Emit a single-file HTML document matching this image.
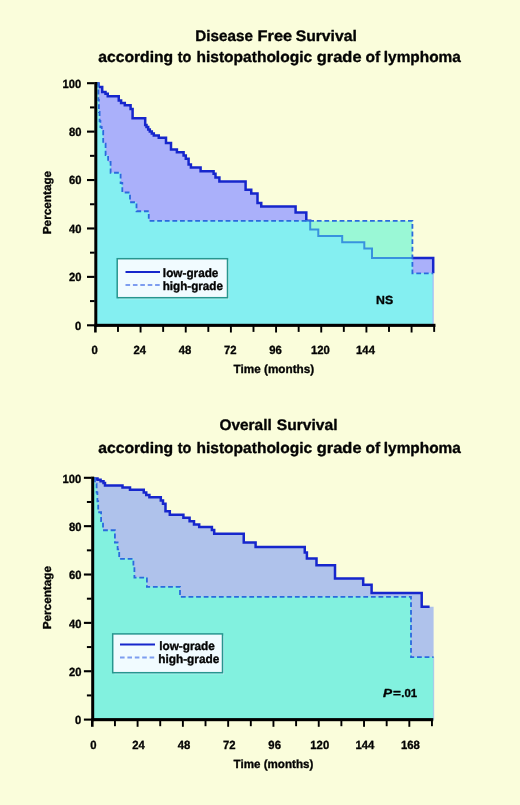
<!DOCTYPE html>
<html><head><meta charset="utf-8"><title>Survival according to histopathologic grade of lymphoma</title>
<style>
html,body{margin:0;padding:0;background:#fafddb;}
body{width:520px;height:805px;overflow:hidden;font-family:"Liberation Sans",sans-serif;}
svg{display:block}
text{font-family:"Liberation Sans",sans-serif;font-weight:bold;fill:#000;stroke:#000;stroke-width:0.35px;stroke-linejoin:round;text-rendering:geometricPrecision}
</style></head><body>
<svg width="520" height="805" viewBox="0 0 520 805">
<rect width="520" height="805" fill="#fafddb"/>
<defs><clipPath id="clt"><path d="M96.90,83.50 L98.50,83.50 L98.50,86.90 L102.20,86.90 L102.20,91.90 L105.50,91.90 L105.50,93.75 L107.75,93.75 L107.75,96.25 L118.75,96.25 L118.75,100.60 L121.10,100.60 L121.10,103.10 L124.80,103.10 L124.80,105.30 L130.60,105.30 L130.60,108.90 L132.60,108.90 L132.60,118.20 L145.20,118.20 L145.20,125 L146.50,125 L146.50,127 L148.20,127 L148.20,129.50 L149.80,129.50 L149.80,131.50 L151.80,131.50 L151.80,133.50 L153.80,133.50 L153.80,135.60 L158.75,135.60 L158.75,137.75 L166,137.75 L166,143.10 L171,143.10 L171,149.50 L176.90,149.50 L176.90,152.20 L183.60,152.20 L183.60,155.60 L185.80,155.60 L185.80,158.75 L188.60,158.75 L188.60,164.40 L190.90,164.40 L190.90,167.50 L200.60,167.50 L200.60,171.25 L213.60,171.25 L213.60,173.75 L215.50,173.75 L215.50,177.50 L219.40,177.50 L219.40,181.40 L245.60,181.40 L245.60,189.75 L251.25,189.75 L251.25,193.60 L257.50,193.60 L257.50,203.10 L261.25,203.10 L261.25,206.50 L295.60,206.50 L295.60,212.50 L306.30,212.50 L306.30,220.80 L310.20,220.80 L310.20,229.50 L318.30,229.50 L318.30,236 L342.20,236 L342.20,242.30 L364.30,242.30 L364.30,248.50 L372,248.50 L372,258 L433.20,258 L433.20,273.30 L433.20,325.30 L97,325.30Z"/></clipPath><clipPath id="cht"><path d="M96.90,83.50 L98.40,83.50 L98.40,100 L98.90,100 L98.90,112 L99.60,112 L99.60,121 L100.40,121 L100.40,127 L101.70,127 L101.70,131 L103.20,131 L103.20,143.75 L105.60,143.75 L105.60,155 L108.10,155 L108.10,162 L110.60,162 L110.60,172.75 L120.60,172.75 L120.60,183 L122.30,183 L122.30,192.50 L130,192.50 L130,202.25 L136.50,202.25 L136.50,211.25 L148.75,211.25 L148.75,220.80 L412.40,220.80 L412.40,273.30 L433.20,273.30 L433.20,325.30 L97,325.30Z"/></clipPath></defs>
<path d="M96.90,83.50 L98.50,83.50 L98.50,86.90 L102.20,86.90 L102.20,91.90 L105.50,91.90 L105.50,93.75 L107.75,93.75 L107.75,96.25 L118.75,96.25 L118.75,100.60 L121.10,100.60 L121.10,103.10 L124.80,103.10 L124.80,105.30 L130.60,105.30 L130.60,108.90 L132.60,108.90 L132.60,118.20 L145.20,118.20 L145.20,125 L146.50,125 L146.50,127 L148.20,127 L148.20,129.50 L149.80,129.50 L149.80,131.50 L151.80,131.50 L151.80,133.50 L153.80,133.50 L153.80,135.60 L158.75,135.60 L158.75,137.75 L166,137.75 L166,143.10 L171,143.10 L171,149.50 L176.90,149.50 L176.90,152.20 L183.60,152.20 L183.60,155.60 L185.80,155.60 L185.80,158.75 L188.60,158.75 L188.60,164.40 L190.90,164.40 L190.90,167.50 L200.60,167.50 L200.60,171.25 L213.60,171.25 L213.60,173.75 L215.50,173.75 L215.50,177.50 L219.40,177.50 L219.40,181.40 L245.60,181.40 L245.60,189.75 L251.25,189.75 L251.25,193.60 L257.50,193.60 L257.50,203.10 L261.25,203.10 L261.25,206.50 L295.60,206.50 L295.60,212.50 L306.30,212.50 L306.30,220.80 L310.20,220.80 L310.20,229.50 L318.30,229.50 L318.30,236 L342.20,236 L342.20,242.30 L364.30,242.30 L364.30,248.50 L372,248.50 L372,258 L433.20,258 L433.20,273.30 L433.20,325.30 L97,325.30Z" fill="#aab0fa"/>
<path d="M96.90,83.50 L98.50,83.50 L98.50,86.90 L102.20,86.90 L102.20,91.90 L105.50,91.90 L105.50,93.75 L107.75,93.75 L107.75,96.25 L118.75,96.25 L118.75,100.60 L121.10,100.60 L121.10,103.10 L124.80,103.10 L124.80,105.30 L130.60,105.30 L130.60,108.90 L132.60,108.90 L132.60,118.20 L145.20,118.20 L145.20,125 L146.50,125 L146.50,127 L148.20,127 L148.20,129.50 L149.80,129.50 L149.80,131.50 L151.80,131.50 L151.80,133.50 L153.80,133.50 L153.80,135.60 L158.75,135.60 L158.75,137.75 L166,137.75 L166,143.10 L171,143.10 L171,149.50 L176.90,149.50 L176.90,152.20 L183.60,152.20 L183.60,155.60 L185.80,155.60 L185.80,158.75 L188.60,158.75 L188.60,164.40 L190.90,164.40 L190.90,167.50 L200.60,167.50 L200.60,171.25 L213.60,171.25 L213.60,173.75 L215.50,173.75 L215.50,177.50 L219.40,177.50 L219.40,181.40 L245.60,181.40 L245.60,189.75 L251.25,189.75 L251.25,193.60 L257.50,193.60 L257.50,203.10 L261.25,203.10 L261.25,206.50 L295.60,206.50 L295.60,212.50 L306.30,212.50 L306.30,220.80 L310.20,220.80 L310.20,229.50 L318.30,229.50 L318.30,236 L342.20,236 L342.20,242.30 L364.30,242.30 L364.30,248.50 L372,248.50 L372,258 L433.20,258 L433.20,273.30" fill="none" stroke="#1626cc" stroke-width="2.5" stroke-linejoin="miter"/>
<path d="M96.90,83.50 L98.40,83.50 L98.40,100 L98.90,100 L98.90,112 L99.60,112 L99.60,121 L100.40,121 L100.40,127 L101.70,127 L101.70,131 L103.20,131 L103.20,143.75 L105.60,143.75 L105.60,155 L108.10,155 L108.10,162 L110.60,162 L110.60,172.75 L120.60,172.75 L120.60,183 L122.30,183 L122.30,192.50 L130,192.50 L130,202.25 L136.50,202.25 L136.50,211.25 L148.75,211.25 L148.75,220.80 L412.40,220.80 L412.40,273.30 L433.20,273.30 L433.20,325.30 L97,325.30Z" fill="#9af8d6"/>
<path d="M96.90,83.50 L98.40,83.50 L98.40,100 L98.90,100 L98.90,112 L99.60,112 L99.60,121 L100.40,121 L100.40,127 L101.70,127 L101.70,131 L103.20,131 L103.20,143.75 L105.60,143.75 L105.60,155 L108.10,155 L108.10,162 L110.60,162 L110.60,172.75 L120.60,172.75 L120.60,183 L122.30,183 L122.30,192.50 L130,192.50 L130,202.25 L136.50,202.25 L136.50,211.25 L148.75,211.25 L148.75,220.80 L412.40,220.80 L412.40,273.30 L433.20,273.30 L433.20,325.30 L97,325.30Z" fill="#84eff1" clip-path="url(#clt)"/>
<path d="M96.90,83.50 L98.50,83.50 L98.50,86.90 L102.20,86.90 L102.20,91.90 L105.50,91.90 L105.50,93.75 L107.75,93.75 L107.75,96.25 L118.75,96.25 L118.75,100.60 L121.10,100.60 L121.10,103.10 L124.80,103.10 L124.80,105.30 L130.60,105.30 L130.60,108.90 L132.60,108.90 L132.60,118.20 L145.20,118.20 L145.20,125 L146.50,125 L146.50,127 L148.20,127 L148.20,129.50 L149.80,129.50 L149.80,131.50 L151.80,131.50 L151.80,133.50 L153.80,133.50 L153.80,135.60 L158.75,135.60 L158.75,137.75 L166,137.75 L166,143.10 L171,143.10 L171,149.50 L176.90,149.50 L176.90,152.20 L183.60,152.20 L183.60,155.60 L185.80,155.60 L185.80,158.75 L188.60,158.75 L188.60,164.40 L190.90,164.40 L190.90,167.50 L200.60,167.50 L200.60,171.25 L213.60,171.25 L213.60,173.75 L215.50,173.75 L215.50,177.50 L219.40,177.50 L219.40,181.40 L245.60,181.40 L245.60,189.75 L251.25,189.75 L251.25,193.60 L257.50,193.60 L257.50,203.10 L261.25,203.10 L261.25,206.50 L295.60,206.50 L295.60,212.50 L306.30,212.50 L306.30,220.80 L310.20,220.80 L310.20,229.50 L318.30,229.50 L318.30,236 L342.20,236 L342.20,242.30 L364.30,242.30 L364.30,248.50 L372,248.50 L372,258 L433.20,258 L433.20,273.30" fill="none" stroke="#3892de" stroke-width="2" clip-path="url(#cht)"/>
<rect x="432.5" y="273.3" width="1.3" height="52" fill="#aab0fa" opacity="0.75"/>
<path d="M96.90,83.50 L98.40,83.50 L98.40,100 L98.90,100 L98.90,112 L99.60,112 L99.60,121 L100.40,121 L100.40,127 L101.70,127 L101.70,131 L103.20,131 L103.20,143.75 L105.60,143.75 L105.60,155 L108.10,155 L108.10,162 L110.60,162 L110.60,172.75 L120.60,172.75 L120.60,183 L122.30,183 L122.30,192.50 L130,192.50 L130,202.25 L136.50,202.25 L136.50,211.25 L148.75,211.25 L148.75,220.80 L412.40,220.80 L412.40,273.30 L433.20,273.30" fill="none" stroke="#2a6ade" stroke-width="1.8" stroke-dasharray="4.8 2.8"/>
<rect x="94.3" y="82" width="3" height="244.9" fill="#000"/>
<rect x="94.3" y="323.8" width="341.16" height="3.1" fill="#000"/>
<rect x="87" y="82.15" width="7.6" height="2.1" fill="#000"/>
<rect x="90" y="106.41" width="4.6" height="2" fill="#000"/>
<rect x="87" y="130.57" width="7.6" height="2.1" fill="#000"/>
<rect x="90" y="154.83" width="4.6" height="2" fill="#000"/>
<rect x="87" y="178.99" width="7.6" height="2.1" fill="#000"/>
<rect x="90" y="203.25" width="4.6" height="2" fill="#000"/>
<rect x="87" y="227.41" width="7.6" height="2.1" fill="#000"/>
<rect x="90" y="251.67" width="4.6" height="2" fill="#000"/>
<rect x="87" y="275.83" width="7.6" height="2.1" fill="#000"/>
<rect x="90" y="300.09" width="4.6" height="2" fill="#000"/>
<rect x="87" y="324.25" width="7.6" height="2.1" fill="#000"/>
<rect x="94.10" y="325.3" width="2.6" height="7.2" fill="#000"/>
<rect x="117.03" y="325.3" width="1.9" height="6.6" fill="#000"/>
<rect x="139.62" y="325.3" width="1.9" height="7.2" fill="#000"/>
<rect x="162.20" y="325.3" width="1.9" height="6.6" fill="#000"/>
<rect x="184.79" y="325.3" width="1.9" height="7.2" fill="#000"/>
<rect x="207.37" y="325.3" width="1.9" height="6.6" fill="#000"/>
<rect x="229.95" y="325.3" width="1.9" height="7.2" fill="#000"/>
<rect x="252.54" y="325.3" width="1.9" height="6.6" fill="#000"/>
<rect x="275.12" y="325.3" width="1.9" height="7.2" fill="#000"/>
<rect x="297.71" y="325.3" width="1.9" height="6.6" fill="#000"/>
<rect x="320.29" y="325.3" width="1.9" height="7.2" fill="#000"/>
<rect x="342.87" y="325.3" width="1.9" height="6.6" fill="#000"/>
<rect x="365.46" y="325.3" width="1.9" height="7.2" fill="#000"/>
<rect x="388.04" y="325.3" width="1.9" height="6.6" fill="#000"/>
<rect x="410.63" y="325.3" width="1.9" height="7.2" fill="#000"/>
<rect x="433.21" y="325.3" width="1.9" height="6.6" fill="#000"/>
<rect x="118.8" y="260.3" width="110.3" height="39" fill="#b4f3f2"/>
<rect x="117.2" y="258.7" width="110.3" height="39" fill="#f1fbff" stroke="#27968f" stroke-width="1.5"/>
<line x1="125.5" y1="272" x2="160" y2="272" stroke="#1626cc" stroke-width="2.1"/>
<line x1="125.5" y1="285" x2="160" y2="285" stroke="#7d9df0" stroke-width="2" stroke-dasharray="4.6 2.8"/>
<defs><clipPath id="clb"><path d="M94,478.50 L97.50,478.50 L97.50,479.75 L100.60,479.75 L100.60,481.25 L103.50,481.25 L103.50,483.10 L105,483.10 L105,485.60 L122.50,485.60 L122.50,487.50 L130,487.50 L130,489.75 L143.75,489.75 L143.75,492.50 L146.25,492.50 L146.25,495 L149.40,495 L149.40,497.25 L160.80,497.25 L160.80,500.60 L163,500.60 L163,503.75 L165.50,503.75 L165.50,511.25 L169.80,511.25 L169.80,514.75 L183.40,514.75 L183.40,517.75 L189.60,517.75 L189.60,521.25 L194,521.25 L194,524.40 L199.20,524.40 L199.20,526.90 L211.90,526.90 L211.90,530 L214.20,530 L214.20,533.75 L243.75,533.75 L243.75,542.50 L255.60,542.50 L255.60,546.90 L304.75,546.90 L304.75,552.50 L306.90,552.50 L306.90,558.50 L316.50,558.50 L316.50,565.25 L335,565.25 L335,578.50 L363.20,578.50 L363.20,584.80 L371.60,584.80 L371.60,592.90 L421.70,592.90 L421.70,606.80 L429.60,606.80 L433.60,606.80 L433.60,719.60 L94,719.60Z"/></clipPath><clipPath id="chb"><path d="M94,478.50 L95,478.50 L95,483.75 L96.60,483.75 L96.60,492.50 L97.40,492.50 L97.40,501.25 L98.20,501.25 L98.20,512.25 L101.10,512.25 L101.10,521 L103,521 L103,530.25 L114.90,530.25 L114.90,542.50 L117.60,542.50 L117.60,549.40 L119.20,549.40 L119.20,558.80 L133.40,558.80 L133.40,567 L134.40,567 L134.40,577.60 L146.90,577.60 L146.90,586.80 L180,586.80 L180,596.80 L411,596.80 L411,657.10 L433.60,657.10 L433.60,719.60 L94,719.60Z"/></clipPath></defs>
<path d="M94,478.50 L97.50,478.50 L97.50,479.75 L100.60,479.75 L100.60,481.25 L103.50,481.25 L103.50,483.10 L105,483.10 L105,485.60 L122.50,485.60 L122.50,487.50 L130,487.50 L130,489.75 L143.75,489.75 L143.75,492.50 L146.25,492.50 L146.25,495 L149.40,495 L149.40,497.25 L160.80,497.25 L160.80,500.60 L163,500.60 L163,503.75 L165.50,503.75 L165.50,511.25 L169.80,511.25 L169.80,514.75 L183.40,514.75 L183.40,517.75 L189.60,517.75 L189.60,521.25 L194,521.25 L194,524.40 L199.20,524.40 L199.20,526.90 L211.90,526.90 L211.90,530 L214.20,530 L214.20,533.75 L243.75,533.75 L243.75,542.50 L255.60,542.50 L255.60,546.90 L304.75,546.90 L304.75,552.50 L306.90,552.50 L306.90,558.50 L316.50,558.50 L316.50,565.25 L335,565.25 L335,578.50 L363.20,578.50 L363.20,584.80 L371.60,584.80 L371.60,592.90 L421.70,592.90 L421.70,606.80 L429.60,606.80 L433.60,606.80 L433.60,719.60 L94,719.60Z" fill="#afc2eb"/>
<path d="M94,478.50 L97.50,478.50 L97.50,479.75 L100.60,479.75 L100.60,481.25 L103.50,481.25 L103.50,483.10 L105,483.10 L105,485.60 L122.50,485.60 L122.50,487.50 L130,487.50 L130,489.75 L143.75,489.75 L143.75,492.50 L146.25,492.50 L146.25,495 L149.40,495 L149.40,497.25 L160.80,497.25 L160.80,500.60 L163,500.60 L163,503.75 L165.50,503.75 L165.50,511.25 L169.80,511.25 L169.80,514.75 L183.40,514.75 L183.40,517.75 L189.60,517.75 L189.60,521.25 L194,521.25 L194,524.40 L199.20,524.40 L199.20,526.90 L211.90,526.90 L211.90,530 L214.20,530 L214.20,533.75 L243.75,533.75 L243.75,542.50 L255.60,542.50 L255.60,546.90 L304.75,546.90 L304.75,552.50 L306.90,552.50 L306.90,558.50 L316.50,558.50 L316.50,565.25 L335,565.25 L335,578.50 L363.20,578.50 L363.20,584.80 L371.60,584.80 L371.60,592.90 L421.70,592.90 L421.70,606.80 L429.60,606.80" fill="none" stroke="#1626cc" stroke-width="2.5" stroke-linejoin="miter"/>
<path d="M94,478.50 L95,478.50 L95,483.75 L96.60,483.75 L96.60,492.50 L97.40,492.50 L97.40,501.25 L98.20,501.25 L98.20,512.25 L101.10,512.25 L101.10,521 L103,521 L103,530.25 L114.90,530.25 L114.90,542.50 L117.60,542.50 L117.60,549.40 L119.20,549.40 L119.20,558.80 L133.40,558.80 L133.40,567 L134.40,567 L134.40,577.60 L146.90,577.60 L146.90,586.80 L180,586.80 L180,596.80 L411,596.80 L411,657.10 L433.60,657.10 L433.60,719.60 L94,719.60Z" fill="#82f1df"/>
<path d="M94,478.50 L95,478.50 L95,483.75 L96.60,483.75 L96.60,492.50 L97.40,492.50 L97.40,501.25 L98.20,501.25 L98.20,512.25 L101.10,512.25 L101.10,521 L103,521 L103,530.25 L114.90,530.25 L114.90,542.50 L117.60,542.50 L117.60,549.40 L119.20,549.40 L119.20,558.80 L133.40,558.80 L133.40,567 L134.40,567 L134.40,577.60 L146.90,577.60 L146.90,586.80 L180,586.80 L180,596.80 L411,596.80 L411,657.10 L433.60,657.10 L433.60,719.60 L94,719.60Z" fill="#82f1df" clip-path="url(#clb)"/>
<path d="M94,478.50 L97.50,478.50 L97.50,479.75 L100.60,479.75 L100.60,481.25 L103.50,481.25 L103.50,483.10 L105,483.10 L105,485.60 L122.50,485.60 L122.50,487.50 L130,487.50 L130,489.75 L143.75,489.75 L143.75,492.50 L146.25,492.50 L146.25,495 L149.40,495 L149.40,497.25 L160.80,497.25 L160.80,500.60 L163,500.60 L163,503.75 L165.50,503.75 L165.50,511.25 L169.80,511.25 L169.80,514.75 L183.40,514.75 L183.40,517.75 L189.60,517.75 L189.60,521.25 L194,521.25 L194,524.40 L199.20,524.40 L199.20,526.90 L211.90,526.90 L211.90,530 L214.20,530 L214.20,533.75 L243.75,533.75 L243.75,542.50 L255.60,542.50 L255.60,546.90 L304.75,546.90 L304.75,552.50 L306.90,552.50 L306.90,558.50 L316.50,558.50 L316.50,565.25 L335,565.25 L335,578.50 L363.20,578.50 L363.20,584.80 L371.60,584.80 L371.60,592.90 L421.70,592.90 L421.70,606.80 L429.60,606.80" fill="none" stroke="#3892de" stroke-width="2" clip-path="url(#chb)"/>
<rect x="432.9" y="657.1" width="1.3" height="62.5" fill="#afc2eb" opacity="0.75"/>
<path d="M94,478.50 L95,478.50 L95,483.75 L96.60,483.75 L96.60,492.50 L97.40,492.50 L97.40,501.25 L98.20,501.25 L98.20,512.25 L101.10,512.25 L101.10,521 L103,521 L103,530.25 L114.90,530.25 L114.90,542.50 L117.60,542.50 L117.60,549.40 L119.20,549.40 L119.20,558.80 L133.40,558.80 L133.40,567 L134.40,567 L134.40,577.60 L146.90,577.60 L146.90,586.80 L180,586.80 L180,596.80 L411,596.80 L411,657.10 L433.60,657.10" fill="none" stroke="#2a6ade" stroke-width="1.8" stroke-dasharray="4.8 2.8"/>
<rect x="91.2" y="476.6" width="3" height="244.6" fill="#000"/>
<rect x="91.2" y="718.1" width="342.06" height="3.1" fill="#000"/>
<rect x="83.9" y="476.75" width="7.6" height="2.1" fill="#000"/>
<rect x="86.9" y="500.98" width="4.6" height="2" fill="#000"/>
<rect x="83.9" y="525.11" width="7.6" height="2.1" fill="#000"/>
<rect x="86.9" y="549.34" width="4.6" height="2" fill="#000"/>
<rect x="83.9" y="573.47" width="7.6" height="2.1" fill="#000"/>
<rect x="86.9" y="597.70" width="4.6" height="2" fill="#000"/>
<rect x="83.9" y="621.83" width="7.6" height="2.1" fill="#000"/>
<rect x="86.9" y="646.06" width="4.6" height="2" fill="#000"/>
<rect x="83.9" y="670.19" width="7.6" height="2.1" fill="#000"/>
<rect x="86.9" y="694.42" width="4.6" height="2" fill="#000"/>
<rect x="83.9" y="718.55" width="7.6" height="2.1" fill="#000"/>
<rect x="91.00" y="719.6" width="2.6" height="7.2" fill="#000"/>
<rect x="113.99" y="719.6" width="1.9" height="6.6" fill="#000"/>
<rect x="136.64" y="719.6" width="1.9" height="7.2" fill="#000"/>
<rect x="159.28" y="719.6" width="1.9" height="6.6" fill="#000"/>
<rect x="181.93" y="719.6" width="1.9" height="7.2" fill="#000"/>
<rect x="204.57" y="719.6" width="1.9" height="6.6" fill="#000"/>
<rect x="227.21" y="719.6" width="1.9" height="7.2" fill="#000"/>
<rect x="249.86" y="719.6" width="1.9" height="6.6" fill="#000"/>
<rect x="272.50" y="719.6" width="1.9" height="7.2" fill="#000"/>
<rect x="295.15" y="719.6" width="1.9" height="6.6" fill="#000"/>
<rect x="317.79" y="719.6" width="1.9" height="7.2" fill="#000"/>
<rect x="340.43" y="719.6" width="1.9" height="6.6" fill="#000"/>
<rect x="363.08" y="719.6" width="1.9" height="7.2" fill="#000"/>
<rect x="385.72" y="719.6" width="1.9" height="6.6" fill="#000"/>
<rect x="408.37" y="719.6" width="1.9" height="7.2" fill="#000"/>
<rect x="431.01" y="719.6" width="1.9" height="6.6" fill="#000"/>
<rect x="114.3" y="635.5" width="109.8" height="38.8" fill="#b4f3f2"/>
<rect x="112.7" y="633.9" width="109.8" height="38.8" fill="#f1fbff" stroke="#27968f" stroke-width="1.5"/>
<line x1="120" y1="644.5" x2="155" y2="644.5" stroke="#1626cc" stroke-width="2.1"/>
<line x1="120" y1="657.5" x2="155" y2="657.5" stroke="#7d9df0" stroke-width="2" stroke-dasharray="4.6 2.8"/>
<g opacity="0.99"><text transform="translate(195.30,40.90) scale(0.9956,1)" style="font-size:15.3px">Disease</text>
<text transform="translate(257.53,40.90) scale(1.0699,1)" style="font-size:15.3px">Free</text>
<text transform="translate(295.69,40.90) scale(1.0259,1)" style="font-size:15.3px">Survival</text>
<text transform="translate(98.24,61.60) scale(1.0245,1)" style="font-size:15.3px">according</text>
<text transform="translate(177.76,61.60) scale(0.9444,1)" style="font-size:15.3px">to</text>
<text transform="translate(196.48,61.60) scale(1.0156,1)" style="font-size:15.3px">histopathologic</text>
<text transform="translate(316.80,61.60) scale(1.0733,1)" style="font-size:15.3px">grade</text>
<text transform="translate(365.49,61.60) scale(1.0143,1)" style="font-size:15.3px">of</text>
<text transform="translate(383.79,61.60) scale(1.0066,1)" style="font-size:15.3px">lymphoma</text>
<text transform="translate(98.24,452.90) scale(1.0245,1)" style="font-size:15.3px">according</text>
<text transform="translate(177.76,452.90) scale(0.9444,1)" style="font-size:15.3px">to</text>
<text transform="translate(196.48,452.90) scale(1.0156,1)" style="font-size:15.3px">histopathologic</text>
<text transform="translate(316.80,452.90) scale(1.0733,1)" style="font-size:15.3px">grade</text>
<text transform="translate(365.49,452.90) scale(1.0143,1)" style="font-size:15.3px">of</text>
<text transform="translate(383.79,452.90) scale(1.0066,1)" style="font-size:15.3px">lymphoma</text>
<text transform="translate(219.44,430.10) scale(1.0080,1)" style="font-size:15.3px">Overall</text>
<text transform="translate(276.79,430.10) scale(1.0207,1)" style="font-size:15.3px">Survival</text>
<text transform="translate(62.57,87.50) scale(0.9400,1)" style="font-size:11.9px">100</text>
<text transform="translate(68.92,135.92) scale(0.9400,1)" style="font-size:11.9px">80</text>
<text transform="translate(68.92,184.34) scale(0.9400,1)" style="font-size:11.9px">60</text>
<text transform="translate(68.92,232.76) scale(0.9400,1)" style="font-size:11.9px">40</text>
<text transform="translate(68.92,281.18) scale(0.9400,1)" style="font-size:11.9px">20</text>
<text transform="translate(75.03,329.60) scale(0.9400,1)" style="font-size:11.9px">0</text>
<text transform="translate(62.57,482.50) scale(0.9400,1)" style="font-size:11.9px">100</text>
<text transform="translate(68.92,530.86) scale(0.9400,1)" style="font-size:11.9px">80</text>
<text transform="translate(68.92,579.22) scale(0.9400,1)" style="font-size:11.9px">60</text>
<text transform="translate(68.92,627.58) scale(0.9400,1)" style="font-size:11.9px">40</text>
<text transform="translate(68.92,675.94) scale(0.9400,1)" style="font-size:11.9px">20</text>
<text transform="translate(75.03,724.30) scale(0.9400,1)" style="font-size:11.9px">0</text>
<text transform="translate(91.59,354.30) scale(0.9500,1)" style="font-size:11.9px">0</text>
<text transform="translate(133.44,354.30) scale(0.9500,1)" style="font-size:11.9px">24</text>
<text transform="translate(178.84,354.30) scale(0.9500,1)" style="font-size:11.9px">48</text>
<text transform="translate(224.01,354.30) scale(0.9500,1)" style="font-size:11.9px">72</text>
<text transform="translate(269.18,354.30) scale(0.9500,1)" style="font-size:11.9px">96</text>
<text transform="translate(311.02,354.30) scale(0.9500,1)" style="font-size:11.9px">120</text>
<text transform="translate(356.07,354.30) scale(0.9500,1)" style="font-size:11.9px">144</text>
<text transform="translate(90.29,748.60) scale(0.9500,1)" style="font-size:11.9px">0</text>
<text transform="translate(132.26,748.60) scale(0.9500,1)" style="font-size:11.9px">24</text>
<text transform="translate(177.78,748.60) scale(0.9500,1)" style="font-size:11.9px">48</text>
<text transform="translate(223.07,748.60) scale(0.9500,1)" style="font-size:11.9px">72</text>
<text transform="translate(268.36,748.60) scale(0.9500,1)" style="font-size:11.9px">96</text>
<text transform="translate(310.32,748.60) scale(0.9500,1)" style="font-size:11.9px">120</text>
<text transform="translate(355.49,748.60) scale(0.9500,1)" style="font-size:11.9px">144</text>
<text transform="translate(400.90,748.60) scale(0.9500,1)" style="font-size:11.9px">168</text>
<text transform="translate(233.55,372.70) scale(0.9877,1)" style="font-size:11.9px">Time (months)</text>
<text transform="translate(233.56,767.70) scale(0.9765,1)" style="font-size:11.9px">Time (months)</text>
<text transform="translate(51.30,234.26) rotate(-90) scale(1.0146,1)" style="font-size:11.6px">Percentage</text>
<text transform="translate(51.30,629.36) rotate(-90) scale(1.0146,1)" style="font-size:11.6px">Percentage</text>
<text transform="translate(162.86,277.00) scale(0.9802,1)" style="font-size:12px">low-grade</text>
<text transform="translate(162.67,289.50) scale(0.9728,1)" style="font-size:12px">high-grade</text>
<text transform="translate(159.26,649.50) scale(0.9802,1)" style="font-size:12px">low-grade</text>
<text transform="translate(158.16,662.50) scale(0.9877,1)" style="font-size:12px">high-grade</text>
<text transform="translate(376.12,304.20) scale(1.0426,1)" style="font-size:11.8px">NS</text>
<text transform="translate(382.91,696.80) scale(1.1733,1)" style="font-size:11.6px"><tspan font-style="italic">P</tspan></text>
<text transform="translate(392.92,696.80) scale(1.1652,1)" style="font-size:11.6px">=</text>
<text transform="translate(401.37,696.80) scale(0.9800,1)" style="font-size:11.6px">.01</text></g>
</svg></body></html>
